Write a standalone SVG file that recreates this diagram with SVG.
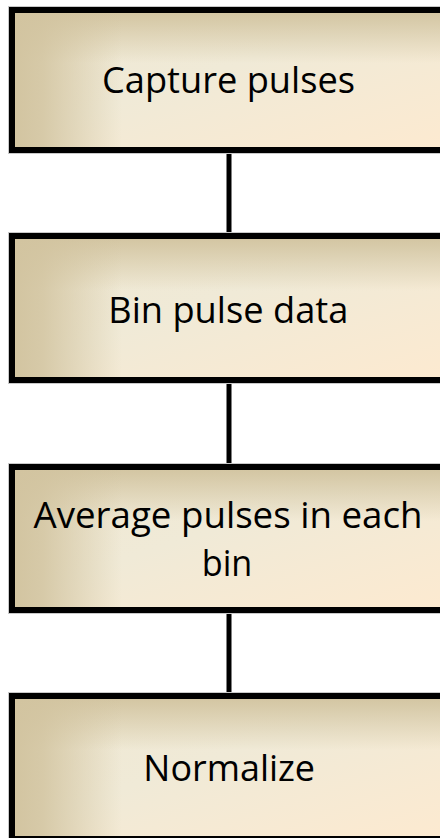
<svg xmlns="http://www.w3.org/2000/svg" width="440" height="838" viewBox="0 0 440 838">
  <defs>
    <linearGradient id="base" x1="0" y1="0" x2="1" y2="1">
      <stop offset="0" stop-color="#efe8d3"/>
      <stop offset="0.45" stop-color="#f0ead7"/>
      <stop offset="1" stop-color="#fdead0"/>
    </linearGradient>
    <linearGradient id="leftShade" x1="0" y1="0" x2="1" y2="0">
      <stop offset="0" stop-color="#d2c4a0" stop-opacity="1"/>
      <stop offset="0.07" stop-color="#d2c4a0" stop-opacity="0.85"/>
      <stop offset="0.25" stop-color="#d2c4a0" stop-opacity="0"/>
      <stop offset="1" stop-color="#d2c4a0" stop-opacity="0"/>
    </linearGradient>
    <linearGradient id="topShade" x1="0" y1="0" x2="0" y2="1">
      <stop offset="0" stop-color="#d2c4a0" stop-opacity="1"/>
      <stop offset="0.1" stop-color="#d2c4a0" stop-opacity="0.75"/>
      <stop offset="0.38" stop-color="#d2c4a0" stop-opacity="0"/>
      <stop offset="1" stop-color="#d2c4a0" stop-opacity="0"/>
    </linearGradient>
  </defs>
  <style>
    .base { fill: url(#base); }
    .ls { fill: url(#leftShade); }
    .ts { fill: url(#topShade); }
    .frame { fill: none; stroke: #000; stroke-width: 6; }
    .halo { fill: none; stroke: #c9c9c9; stroke-width: 8; }
    .label { font-family: "Open Sans", "Noto Sans", "Liberation Sans", sans-serif; font-size: 36.5px; fill: #000; text-anchor: middle; }
    .conn { stroke: #000; stroke-width: 5; fill: none; }
  </style>
  <rect width="440" height="838" fill="#fff"/>

  <g id="connectors">
    <line class="conn" x1="229" y1="150" x2="229" y2="236"/>
    <line class="conn" x1="229" y1="380" x2="229" y2="467"/>
    <line class="conn" x1="229" y1="610" x2="229" y2="696"/>
  </g>

  <g id="node1">
    <rect class="halo" x="12" y="10" width="440" height="140"/>
    <rect class="base" x="12" y="10" width="440" height="140"/>
    <rect class="ts" x="12" y="10" width="440" height="140"/>
    <rect class="ls" x="12" y="10" width="440" height="140"/>
    <rect class="frame" x="12" y="10" width="440" height="140"/>
    <text class="label" x="228.5" y="93.3" textLength="253" lengthAdjust="spacingAndGlyphs">Capture pulses</text>
  </g>

  <g id="node2">
    <rect class="halo" x="12" y="236" width="440" height="144"/>
    <rect class="base" x="12" y="236" width="440" height="144"/>
    <rect class="ts" x="12" y="236" width="440" height="144"/>
    <rect class="ls" x="12" y="236" width="440" height="144"/>
    <rect class="frame" x="12" y="236" width="440" height="144"/>
    <text class="label" x="228.3" y="322.5" textLength="240" lengthAdjust="spacingAndGlyphs">Bin pulse data</text>
  </g>

  <g id="node3">
    <rect class="halo" x="12" y="467" width="440" height="143"/>
    <rect class="base" x="12" y="467" width="440" height="143"/>
    <rect class="ts" x="12" y="467" width="440" height="143"/>
    <rect class="ls" x="12" y="467" width="440" height="143"/>
    <rect class="frame" x="12" y="467" width="440" height="143"/>
    <text class="label" x="228" y="527.5" textLength="389" lengthAdjust="spacingAndGlyphs">Average pulses in each</text>
    <text class="label" x="227" y="575.5" textLength="50.6" lengthAdjust="spacingAndGlyphs">bin</text>
  </g>

  <g id="node4">
    <rect class="halo" x="12" y="696" width="440" height="143"/>
    <rect class="base" x="12" y="696" width="440" height="143"/>
    <rect class="ts" x="12" y="696" width="440" height="143"/>
    <rect class="ls" x="12" y="696" width="440" height="143"/>
    <rect class="frame" x="12" y="696" width="440" height="143"/>
    <text class="label" x="229.2" y="781" textLength="171.7" lengthAdjust="spacingAndGlyphs">Normalize</text>
  </g>
</svg>
